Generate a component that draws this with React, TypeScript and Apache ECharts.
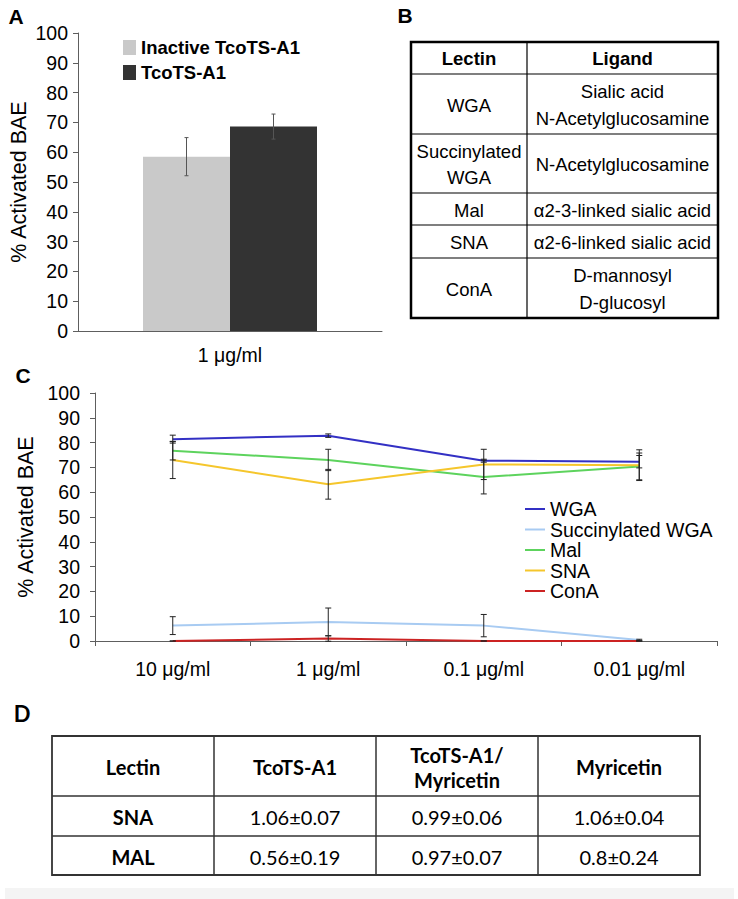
import React, { useEffect, useRef } from "react";
import * as echarts from "echarts";

// ---------- Panel A data ----------
const barCategories = ["1 μg/ml"];
const barSeriesNames = ["Inactive TcoTS-A1", "TcoTS-A1"];
const inactiveValues = [58.5];
const inactiveErrors = [6.4];
const activeValues = [68.6];
const activeErrors = [4.2];

// ---------- Panel C data ----------
const concentrations = ["10 μg/ml", "1 μg/ml", "0.1 μg/ml", "0.01 μg/ml"];
const lectinNames = ["WGA", "Succinylated WGA", "Mal", "SNA", "ConA"];
const wgaValues = [81.4, 82.8, 72.7, 72.3];
const wgaErrors = [1.6, 0.7, 0.6, 2.5];
const succValues = [6.2, 7.7, 6.2, 0.4];
const succErrors = [3.6, 5.6, 4.5, 0.3];
const malValues = [76.7, 73.0, 66.1, 70.4];
const malErrors = [3.7, 4.3, 6.8, 5.4];
const snaValues = [73.0, 63.2, 71.2, 70.9];
const snaErrors = [7.5, 6.0, 6.1, 6.2];
const conaValues = [0, 1.0, 0, 0];
const conaErrors = [0, 1.1, 0, 0];
const lectinColors = ["#3330c4", "#a8cbf2", "#5dd35d", "#f5c62c", "#cc2323"];

// ---------- Panel B table ----------
const tableBHeader = ["Lectin", "Ligand"];
const tableBLectins = ["WGA", "Succinylated\nWGA", "Mal", "SNA", "ConA"];
const tableBLigands = [
  "Sialic acid\nN-Acetylglucosamine",
  "N-Acetylglucosamine",
  "α2-3-linked sialic acid",
  "α2-6-linked sialic acid",
  "D-mannosyl\nD-glucosyl",
];

// ---------- Panel D table ----------
const tableDHeader = ["Lectin", "TcoTS-A1", "TcoTS-A1/\nMyricetin", "Myricetin"];
const tableDLectins = ["SNA", "MAL"];
const tcoValues = ["1.06±0.07", "0.56±0.19"];
const comboValues = ["0.99±0.06", "0.97±0.07"];
const myricetinValues = ["1.06±0.04", "0.8±0.24"];

const SANS = "Arial";
const CAL = "Lato";

function errorBarSeries(values: number[], errors: number[], xIdx: number, offset: number, color: string, cap: number) {
  return {
    type: "custom",
    xAxisIndex: xIdx,
    yAxisIndex: xIdx,
    silent: true,
    z: 10,
    data: values.map((v, i) => [i, v, errors[i]]),
    renderItem: (_p: any, api: any) => {
      const idx = api.value(0);
      const v = api.value(1);
      const e = api.value(2);
      const x = api.coord([idx, v])[0] + offset;
      const top = api.coord([idx, v + e])[1];
      const bot = api.coord([idx, v - e])[1];
      const st = { stroke: color, lineWidth: 1 };
      return {
        type: "group",
        children: [
          { type: "line", shape: { x1: x, y1: top, x2: x, y2: bot }, style: st },
          { type: "line", shape: { x1: x - cap, y1: top, x2: x + cap, y2: top }, style: st },
          { type: "line", shape: { x1: x - cap, y1: bot, x2: x + cap, y2: bot }, style: st },
        ],
      };
    },
  };
}

function textEl(text: string, x: number, y: number, size: number, bold: boolean, family: string, lineHeight?: number) {
  return {
    type: "text",
    x,
    y,
    silent: true,
    style: {
      text,
      fill: "#000",
      fontSize: size,
      fontWeight: bold ? "bold" : "normal",
      fontFamily: family,
      align: "center",
      verticalAlign: "middle",
      lineHeight: lineHeight || size * 1.2,
    },
  };
}

function lineEl(x1: number, y1: number, x2: number, y2: number, w: number, color: string) {
  return { type: "line", silent: true, shape: { x1, y1, x2, y2 }, style: { stroke: color, lineWidth: w } };
}

function buildGraphics() {
  const g: any[] = [];
  // panel letters
  g.push(textEl("A", 16, 16, 21, true, SANS));
  g.push(textEl("B", 405, 15, 21, true, SANS));
  g.push(textEl("C", 23, 375, 21, true, SANS));
  g.push(textEl("D", 22, 713, 22, true, CAL));

  // Table B
  const bCols = [411, 527, 718];
  const bRows = [42, 74, 134, 193, 225, 258, 318];
  for (let i = 1; i < bRows.length - 1; i++) g.push(lineEl(bCols[0], bRows[i], bCols[2], bRows[i], 1.2, "#000"));
  g.push(lineEl(bCols[1], bRows[0], bCols[1], bRows[bRows.length - 1], 1.2, "#000"));
  g.push({
    type: "rect",
    silent: true,
    shape: { x: bCols[0], y: bRows[0], width: bCols[2] - bCols[0], height: bRows[bRows.length - 1] - bRows[0] },
    style: { fill: "none", stroke: "#000", lineWidth: 2.5 },
  });
  const bc0 = (bCols[0] + bCols[1]) / 2;
  const bc1 = (bCols[1] + bCols[2]) / 2;
  g.push(textEl(tableBHeader[0], bc0, (bRows[0] + bRows[1]) / 2, 18.5, true, SANS));
  g.push(textEl(tableBHeader[1], bc1, (bRows[0] + bRows[1]) / 2, 18.5, true, SANS));
  tableBLectins.forEach((t, i) => {
    const cy = (bRows[i + 1] + bRows[i + 2]) / 2 + 1;
    g.push(textEl(t, bc0, cy, 18.5, false, SANS, 26.5));
    g.push(textEl(tableBLigands[i], bc1, cy, 18.5, false, SANS, 26.5));
  });

  // Table D
  const dCols = [52, 214, 376, 538, 700];
  const dRows = [736, 796, 836, 875];
  for (let i = 1; i < dRows.length - 1; i++) g.push(lineEl(dCols[0], dRows[i], dCols[4], dRows[i], 1.5, "#333"));
  for (let j = 1; j < dCols.length - 1; j++) g.push(lineEl(dCols[j], dRows[0], dCols[j], dRows[3], 1.5, "#333"));
  g.push({
    type: "rect",
    silent: true,
    shape: { x: dCols[0], y: dRows[0], width: dCols[4] - dCols[0], height: dRows[3] - dRows[0] },
    style: { fill: "none", stroke: "#333", lineWidth: 1.8 },
  });
  const dc = (j: number) => (dCols[j] + dCols[j + 1]) / 2;
  tableDHeader.forEach((t, j) => g.push(textEl(t, dc(j), (dRows[0] + dRows[1]) / 2 + 1, 20, true, CAL, 25)));
  tableDLectins.forEach((name, i) => {
    const cy = (dRows[i + 1] + dRows[i + 2]) / 2 + 1;
    g.push(textEl(name, dc(0), cy, 20, true, CAL));
    g.push(textEl(tcoValues[i], dc(1), cy, 20, false, CAL));
    g.push(textEl(comboValues[i], dc(2), cy, 20, false, CAL));
    g.push(textEl(myricetinValues[i], dc(3), cy, 20, false, CAL));
  });

  // light band at bottom
  g.push({ type: "rect", silent: true, z: -1, shape: { x: 5, y: 888, width: 729, height: 11 }, style: { fill: "#f4f4f4" } });
  return g;
}

export default function App() {
  const ref = useRef<HTMLDivElement>(null);
  useEffect(() => {
    if (!ref.current) return;
    const chart = echarts.init(ref.current, null, { renderer: "svg" });
    const axisColor = "#5e5e5e";
    const axisLabel = { color: "#000", fontSize: 19.5, fontFamily: SANS };
    const lineData = [wgaValues, succValues, malValues, snaValues, conaValues];
    const lineErr = [wgaErrors, succErrors, malErrors, snaErrors, conaErrors];

    const option: any = {
      animation: false,
      backgroundColor: "#fff",
      textStyle: { fontFamily: SANS },
      grid: [
        { left: 78, top: 33, width: 304, height: 298 },
        { left: 95, top: 393, width: 622, height: 248 },
      ],
      legend: [
        {
          data: barSeriesNames,
          orient: "vertical",
          left: 118,
          top: 33,
          icon: "rect",
          itemWidth: 13,
          itemHeight: 15,
          itemGap: 6,
          textStyle: { fontSize: 18.5, fontWeight: "bold", color: "#000", fontFamily: SANS, lineHeight: 18 },
          selectedMode: false,
        },
        {
          data: lectinNames,
          orient: "vertical",
          left: 520,
          top: 494,
          icon: "rect",
          itemWidth: 20,
          itemHeight: 2,
          itemGap: 0.5,
          textStyle: { fontSize: 19.5, color: "#000", fontFamily: SANS, lineHeight: 20 },
          selectedMode: false,
        },
      ],
      xAxis: [
        {
          type: "category",
          gridIndex: 0,
          data: barCategories,
          axisLine: { lineStyle: { color: axisColor, width: 1 } },
          axisTick: { show: false },
          axisLabel: { ...axisLabel, margin: 14 },
        },
        {
          type: "category",
          gridIndex: 1,
          data: concentrations,
          axisLine: { lineStyle: { color: axisColor, width: 1 } },
          axisTick: { show: true, length: 5, lineStyle: { color: axisColor } },
          axisLabel: { ...axisLabel, margin: 18 },
        },
      ],
      yAxis: [
        {
          type: "value",
          gridIndex: 0,
          min: 0,
          max: 100,
          interval: 10,
          name: "% Activated BAE",
          nameLocation: "middle",
          nameRotate: 90,
          nameGap: 48,
          nameTextStyle: { fontSize: 21.5, color: "#000", fontFamily: SANS },
          axisLine: { show: true, lineStyle: { color: axisColor, width: 1 } },
          axisTick: { show: true, length: 5, lineStyle: { color: axisColor } },
          splitLine: { show: false },
          axisLabel: { ...axisLabel, margin: 10 },
        },
        {
          type: "value",
          gridIndex: 1,
          min: 0,
          max: 100,
          interval: 10,
          name: "% Activated BAE",
          nameLocation: "middle",
          nameRotate: 90,
          nameGap: 54,
          nameTextStyle: { fontSize: 21.5, color: "#000", fontFamily: SANS },
          axisLine: { show: true, lineStyle: { color: axisColor, width: 1 } },
          axisTick: { show: true, length: 5, lineStyle: { color: axisColor } },
          splitLine: { show: false },
          axisLabel: { ...axisLabel, margin: 15 },
        },
      ],
      series: [
        {
          name: barSeriesNames[0],
          type: "bar",
          xAxisIndex: 0,
          yAxisIndex: 0,
          barWidth: 87,
          barGap: "0%",
          itemStyle: { color: "#c9c9c9" },
          data: inactiveValues,
        },
        {
          name: barSeriesNames[1],
          type: "bar",
          xAxisIndex: 0,
          yAxisIndex: 0,
          barWidth: 87,
          barGap: "0%",
          itemStyle: { color: "#333333" },
          data: activeValues,
        },
        errorBarSeries(inactiveValues, inactiveErrors, 0, -43.5, "#555", 2),
        errorBarSeries(activeValues, activeErrors, 0, 43.5, "#555", 2),
        ...lectinNames.map((name, k) => ({
          name,
          type: "line",
          xAxisIndex: 1,
          yAxisIndex: 1,
          showSymbol: false,
          symbol: "none",
          data: lineData[k],
          itemStyle: { color: lectinColors[k] },
          lineStyle: { color: lectinColors[k], width: 2 },
          z: 3,
        })),
        ...lectinNames.map((_n, k) => errorBarSeries(lineData[k], lineErr[k], 1, 0, "#222", 3)),
      ],
      graphic: { elements: buildGraphics() },
    };
    chart.setOption(option);
    return () => chart.dispose();
  }, []);
  return (
    <div
      ref={ref}
      style={{ position: "absolute", left: 0, top: 0, width: 738, height: 899, background: "#fff" }}
    />
  );
}
